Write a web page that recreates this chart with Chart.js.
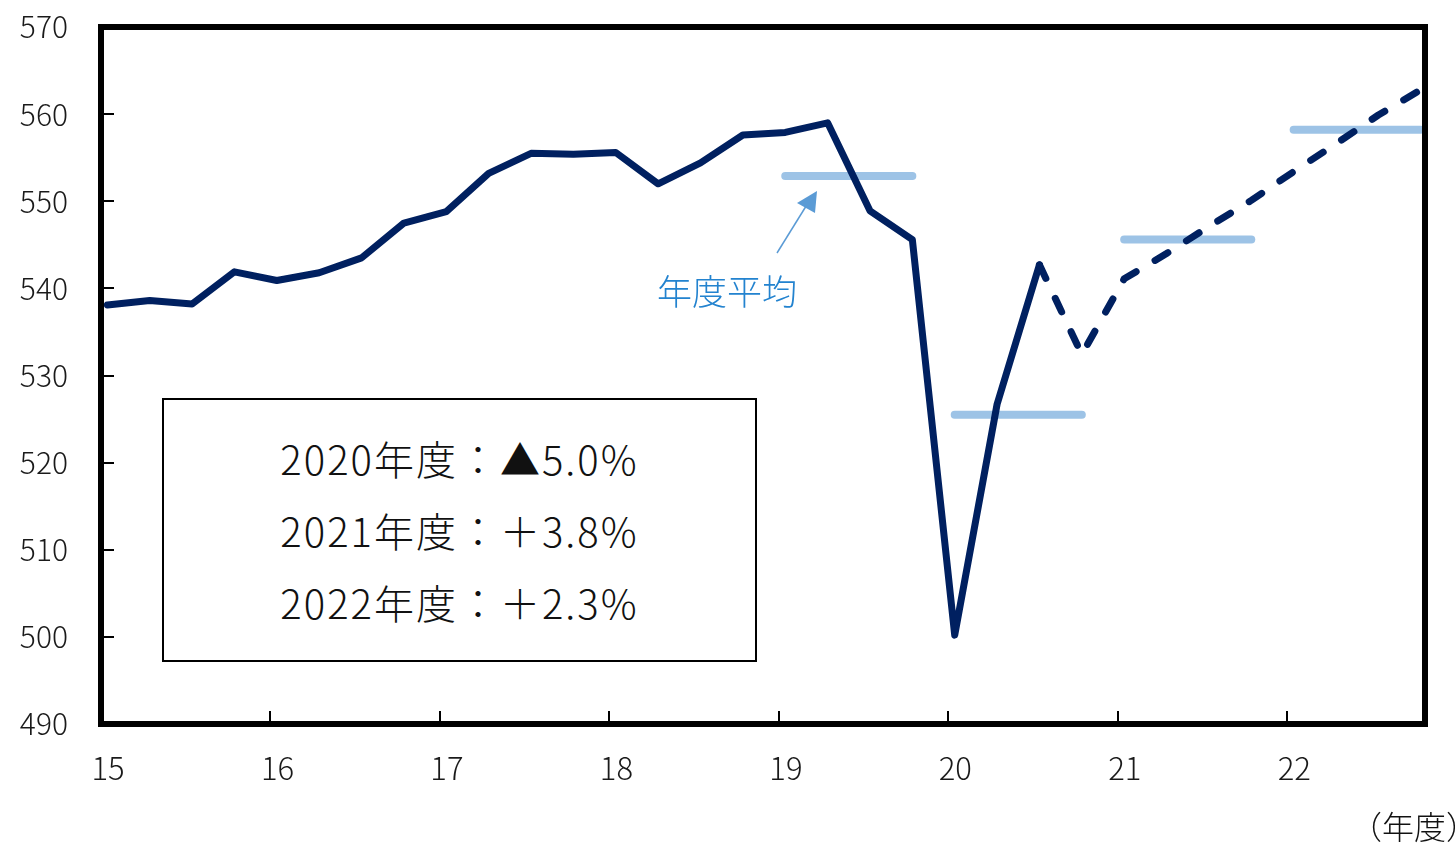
<!DOCTYPE html>
<html lang="ja">
<head>
<meta charset="utf-8">
<script src="https://cdn.jsdelivr.net/npm/chart.js@4.4.1/dist/chart.umd.min.js"></script>
<style>
    html, body { margin: 0; padding: 0; background: #fff; }
    #wrap { position: relative; width: 1455px; height: 843px; }
    #chart { position: absolute; left: 0; top: 0; }
    .note-box {
        position: absolute; left: 162px; top: 398px; width: 591px; height: 260px;
        border: 2px solid #000; background: #fff;
        font-family: 'Noto Sans CJK JP', sans-serif; font-size: 40px; font-weight: 300; color: #111;
        text-align: center; letter-spacing: 2px;
    }
    .note-box div { position: absolute; left: 0; right: 0; line-height: 40px; }
    .avg-label {
        position: absolute; left: 657px; top: 270px;
        font-family: 'Noto Sans CJK JP', sans-serif; font-size: 35px; font-weight: 300; color: #2383cf;
        line-height: 40px; white-space: nowrap;
    }
    .unit-label {
        position: absolute; left: 1350px; top: 805px;
        font-family: 'Noto Sans CJK JP', sans-serif; font-size: 32px; font-weight: 300; color: #111;
        line-height: 40px; white-space: nowrap;
    }
</style>
</head>
<body>
<div id="wrap">
    <canvas id="chart" width="1455" height="843"></canvas>
    <div class="note-box" id="noteBox"></div>
    <div class="avg-label">年度平均</div>
    <div class="unit-label">（年度）</div>
</div>
<script>
// 年度ラベル（15年度〜22年度、四半期ごと）
const yearLabels = ['15', '16', '17', '18', '19', '20', '21', '22'];

// 実績（2015Q1〜2020Q3）
const actualValues = [538.1, 538.6, 538.2, 541.9, 540.9, 541.8, 543.5, 547.5,
    548.8, 553.2, 555.5, 555.4, 555.6, 552.0, 554.4, 557.6,
    557.9, 559.0, 548.9, 545.6, 500.2, 526.7, 542.7];

// 見通し（2020Q3〜2022Q4）
const forecastStart = 22;
const forecastValues = [542.7, 532.4, 541.1, 544.0, 547.1, 550.1, 553.4, 556.6, 559.9, 562.8];

// 年度平均
const avgYears = [19, 20, 21, 22];
const avgValues = [552.9, 525.5, 545.6, 558.2];

// 年度ごとの伸び率
const growthLines = ['2020年度：▲5.0%', '2021年度：＋3.8%', '2022年度：＋2.3%'];

const yTicks = [490, 500, 510, 520, 530, 540, 550, 560, 570];

// テキストボックス
const noteBox = document.getElementById('noteBox');
growthLines.forEach((t, i) => {
    const d = document.createElement('div');
    d.textContent = t;
    d.style.top = (38 + i * 72) + 'px';
    noteBox.appendChild(d);
});

const actualData = actualValues.map((v, i) => ({ x: i, y: v }));
const forecastData = forecastValues.map((v, i) => ({ x: forecastStart + i, y: v }));

const avgDatasets = avgYears.map((yr, k) => {
    const start = (yr - 15) * 4;
    return {
        label: '年度平均' + yr,
        data: [{ x: start, y: avgValues[k] }, { x: start + 3, y: avgValues[k] }],
        borderColor: '#9dc3e6',
        borderWidth: 8,
        borderCapStyle: 'round',
        pointRadius: 0,
        order: 2
    };
});

const xOffset = -0.15;
const yearTickValues = yearLabels.map((_, i) => i * 4 + xOffset);

// 枠線・内向き目盛・矢印
const framePlugin = {
    id: 'frame',
    afterDraw(chart) {
        const { ctx, chartArea: a, scales } = chart;
        ctx.save();
        ctx.strokeStyle = '#000';
        // 内向き目盛
        ctx.lineWidth = 2;
        ctx.beginPath();
        yTicks.forEach(v => {
            const y = Math.round(scales.y.getPixelForValue(v));
            ctx.moveTo(a.left, y);
            ctx.lineTo(a.left + 13, y);
        });
        yearTickValues.forEach(v => {
            const x = Math.round(scales.x.getPixelForValue(v));
            ctx.moveTo(x, a.bottom);
            ctx.lineTo(x, a.bottom - 13);
        });
        ctx.stroke();
        // 枠
        ctx.lineWidth = 6;
        ctx.lineJoin = 'miter';
        ctx.strokeRect(a.left, a.top, a.right - a.left, a.bottom - a.top);

        // 年度平均への矢印
        ctx.strokeStyle = '#5b9bd5';
        ctx.fillStyle = '#5b9bd5';
        ctx.lineWidth = 1.5;
        ctx.beginPath();
        ctx.moveTo(777, 253);
        ctx.lineTo(808, 203);
        ctx.stroke();
        ctx.beginPath();
        ctx.moveTo(817, 191);
        ctx.lineTo(797, 203);
        ctx.lineTo(815, 213);
        ctx.closePath();
        ctx.fill();
        ctx.restore();
    }
};

const ctx = document.getElementById('chart').getContext('2d');
const chart = new Chart(ctx, {
    type: 'line',
    data: {
        datasets: [
            {
                label: '実績',
                data: actualData,
                borderColor: '#002060',
                borderWidth: 7,
                borderJoinStyle: 'round',
                borderCapStyle: 'round',
                pointRadius: 0,
                tension: 0,
                order: 0
            },
            {
                label: '見通し',
                data: forecastData,
                borderColor: '#002060',
                borderWidth: 7,
                borderDash: [15, 22],
                borderCapStyle: 'round',
                borderJoinStyle: 'round',
                pointRadius: 0,
                tension: 0,
                order: 0
            },
            ...avgDatasets
        ]
    },
    options: {
        responsive: false,
        animation: false,
        layout: { padding: { top: 27, right: 30, left: 0, bottom: 0 } },
        plugins: {
            legend: { display: false },
            tooltip: { enabled: false }
        },
        scales: {
            x: {
                type: 'linear',
                min: xOffset,
                max: 31.1,
                grid: { display: false, drawTicks: false },
                border: { display: false },
                afterBuildTicks: (scale) => {
                    scale.ticks = yearTickValues.map(v => ({ value: v }));
                },
                afterFit: (scale) => {
                    scale.height = 119;
                    scale.paddingLeft = 0;
                    scale.paddingRight = 0;
                },
                ticks: {
                    autoSkip: false,
                    maxRotation: 0,
                    padding: 26,
                    labelOffset: 7,
                    color: '#1a1a1a',
                    font: { family: "'Noto Sans CJK JP', sans-serif", size: 31, weight: 300 },
                    callback: (value, index) => yearLabels[index]
                }
            },
            y: {
                min: 490,
                max: 570,
                grid: { display: false, drawTicks: false },
                border: { display: false },
                afterBuildTicks: (scale) => {
                    scale.ticks = yTicks.map(v => ({ value: v }));
                },
                afterFit: (scale) => {
                    scale.width = 101;
                    scale.paddingTop = 0;
                    scale.paddingBottom = 0;
                },
                ticks: {
                    padding: 33,
                    color: '#1a1a1a',
                    font: { family: "'Noto Sans CJK JP', sans-serif", size: 30, weight: 300 }
                }
            }
        }
    },
    plugins: [framePlugin]
});
</script>
</body>
</html>
